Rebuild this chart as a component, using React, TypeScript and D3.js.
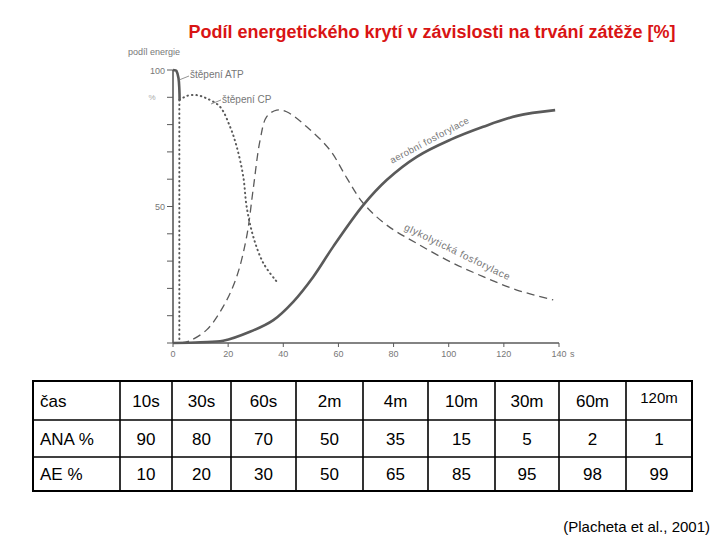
import React from "react";
import * as d3 from "d3";

const title = "Podíl energetického krytí v závislosti na trvání zátěže [%]";

const xTicks = [0, 20, 40, 60, 80, 100, 120, 140];
const yMinorTicks = [0, 10, 20, 30, 40, 50, 60, 70, 80, 90, 100];
const yLabelTicks = [50, 100];

const atpT = [0, 1.2, 2.0, 2.3, 2.4];
const atpV = [100, 99.8, 97, 93, 89];

const atpDropT = [2.3, 2.3];
const atpDropV = [89, 0.5];

const cpT = [2.4, 5, 8.6, 12.2, 17, 20.7, 23.1, 25.5, 26.7, 29.1, 32.8, 37.6];
const cpV = [89, 90.5, 90.8, 89.6, 86.6, 79.2, 71.9, 60.9, 50, 39, 29.2, 22.5];

const glyT = [3, 6, 12.2, 18.2, 23.1, 26.7, 29.1, 31.6, 34, 37.6, 41.2, 48.5, 56.9, 63, 69, 77.5, 88.4, 100.5, 112.5, 124.7, 137.9];
const glyV = [0, 0.8, 4.8, 13.3, 24.3, 38.9, 56.5, 74.4, 82.9, 85.3, 84.7, 79.2, 70.7, 60.5, 51.2, 43.2, 36.5, 29.8, 24.3, 19.4, 15.8];

const aeT = [0, 10, 18.2, 27.9, 36.4, 43.6, 50.9, 58.1, 69, 77.5, 88.4, 100.5, 112.5, 124.7, 138.6];
const aeV = [0, 0.3, 0.8, 4.1, 8.4, 15.1, 24.3, 35.3, 50.5, 59.7, 68.2, 74.4, 79.2, 83.2, 85.3];

const tableHeader = ["čas", "10s", "30s", "60s", "2m", "4m", "10m", "30m", "60m", "120m"];
const anaRow = ["ANA %", "90", "80", "70", "50", "35", "15", "5", "2", "1"];
const aeRow = ["AE %", "10", "20", "30", "50", "65", "85", "95", "98", "99"];

const colEdges = [33, 120, 172, 231, 296, 363, 428, 495, 559, 626, 692];
const rowEdges = [381, 420, 457, 491];

const citation = "(Placheta et al., 2001)";

export default function App() {
  const x = d3.scaleLinear().domain([0, 140]).range([173, 559]);
  const y = d3.scaleLinear().domain([0, 100]).range([343, 70]);

  const mk = (ts: number[], vs: number[], curve: any) =>
    d3
      .line<number>()
      .x((_, i) => x(ts[i]))
      .y((v) => y(v))
      .curve(curve)(vs) as string;

  const gray = "#5a5a5a";
  const tgray = "#777";
  const font = "Liberation Sans, Arial, sans-serif";
  const rows = [tableHeader, anaRow, aeRow];

  return (
    <svg
      width={720}
      height={540}
      style={{ position: "absolute", left: 0, top: 0, background: "#fff" }}
      fontFamily={font}
    >
      <rect x={0} y={0} width={720} height={540} fill="#fff" />
      <text x={432} y={38} textAnchor="middle" fontWeight="bold" fontSize={18} fill="#d91414">
        {title}
      </text>

      {/* axes */}
      <line x1={x(0)} x2={x(0)} y1={y(100)} y2={y(0)} stroke={gray} strokeWidth={1.6} />
      <line x1={x(0)} x2={x(140)} y1={y(0)} y2={y(0)} stroke={gray} strokeWidth={1.4} />
      {yMinorTicks.map((t) => (
        <line key={"yt" + t} x1={x(0) - 6} x2={x(0)} y1={y(t)} y2={y(t)} stroke={gray} strokeWidth={1} />
      ))}
      {yLabelTicks.map((t) => (
        <text key={"yl" + t} x={x(0) - 8} y={y(t) + 3.5} textAnchor="end" fontSize={9} fill={tgray}>
          {t}
        </text>
      ))}
      <text x={152} y={y(90) + 3} textAnchor="middle" fontSize={8} fill="#aaa">%</text>
      <text x={128} y={55} fontSize={9} fill={tgray}>podíl energie</text>
      {xTicks.map((t) => (
        <g key={"xt" + t}>
          <line x1={x(t)} x2={x(t)} y1={y(0)} y2={y(0) + 4} stroke={gray} strokeWidth={1} />
          <text x={x(t)} y={y(0) + 14} textAnchor="middle" fontSize={9} fill={tgray}>
            {t}
          </text>
        </g>
      ))}
      <text x={x(140) + 11} y={y(0) + 14} fontSize={9} fill={tgray}>s</text>

      {/* curves */}
      <path d={mk(aeT, aeV, d3.curveCatmullRom.alpha(0.5))} fill="none" stroke={gray} strokeWidth={2.6} />
      <path d={mk(glyT, glyV, d3.curveCatmullRom.alpha(0.5))} fill="none" stroke={gray} strokeWidth={1.3} strokeDasharray="8 5" />
      <path d={mk(cpT, cpV, d3.curveCatmullRom)} fill="none" stroke={gray} strokeWidth={2} strokeDasharray="0.5 4" strokeLinecap="round" />
      <path d={mk(atpDropT, atpDropV, d3.curveLinear)} fill="none" stroke={gray} strokeWidth={2} strokeDasharray="0.5 4" strokeLinecap="round" />
      <path d={mk(atpT, atpV, d3.curveMonotoneY)} fill="none" stroke={gray} strokeWidth={2.6} />

      {/* curve labels */}
      <line x1={179} y1={80} x2={189} y2={76} stroke={tgray} strokeWidth={0.8} />
      <text x={190} y={78} fontSize={10} fill={tgray}>štěpení ATP</text>
      <line x1={211} y1={104} x2={221} y2={100} stroke={tgray} strokeWidth={0.8} />
      <text x={222} y={103} fontSize={10} fill={tgray}>štěpení CP</text>
      <text transform="translate(431,143) rotate(-28)" textAnchor="middle" fontSize={9.5} letterSpacing={0.4} fill={tgray}>
        aerobní fosforylace
      </text>
      <text transform="translate(456,255) rotate(26)" textAnchor="middle" fontSize={10} letterSpacing={0.6} fill={tgray}>
        glykolytická fosforylace
      </text>

      {/* table */}
      <rect
        x={colEdges[0]}
        y={rowEdges[0]}
        width={colEdges[colEdges.length - 1] - colEdges[0]}
        height={rowEdges[rowEdges.length - 1] - rowEdges[0]}
        fill="none"
        stroke="#000"
        strokeWidth={2}
      />
      {colEdges.slice(1, -1).map((cx) => (
        <line key={"c" + cx} x1={cx} x2={cx} y1={rowEdges[0]} y2={rowEdges[3]} stroke="#000" strokeWidth={1.6} />
      ))}
      {rowEdges.slice(1, -1).map((ry) => (
        <line key={"r" + ry} x1={colEdges[0]} x2={colEdges[10]} y1={ry} y2={ry} stroke="#000" strokeWidth={1.6} />
      ))}
      {rows.map((row, ri) =>
        row.map((cell, ci) => {
          const cy = (rowEdges[ri] + rowEdges[ri + 1]) / 2;
          const small = ri === 0 && ci === 9;
          if (ci === 0) {
            return (
              <text key={ri + "-" + ci} x={colEdges[0] + 7} y={cy + 6} fontSize={17} fill="#000">
                {cell}
              </text>
            );
          }
          return (
            <text
              key={ri + "-" + ci}
              x={(colEdges[ci] + colEdges[ci + 1]) / 2}
              y={small ? cy + 2 : cy + 6}
              textAnchor="middle"
              fontSize={small ? 15 : 17}
              fill="#000"
            >
              {cell}
            </text>
          );
        })
      )}
      <text x={710} y={532} textAnchor="end" fontSize={15} fill="#000">
        {citation}
      </text>
    </svg>
  );
}
